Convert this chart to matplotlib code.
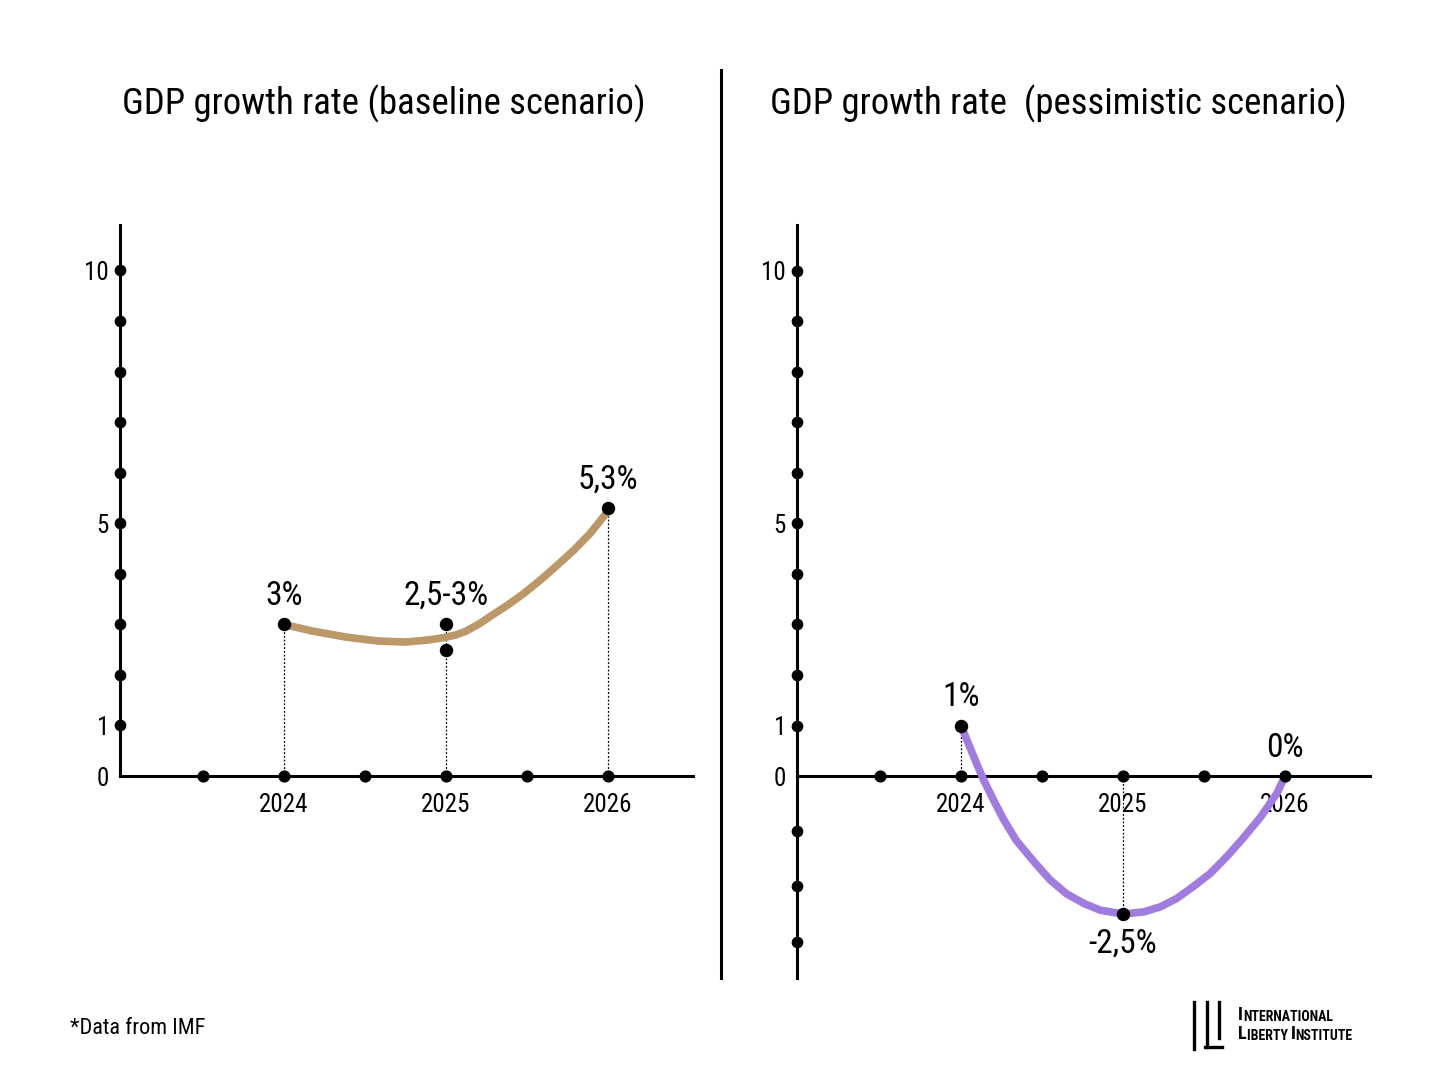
import numpy as np
import matplotlib.pyplot as plt

plt.rcParams['font.family'] = ['Roboto Condensed', 'Liberation Sans Narrow', 'DejaVu Sans']

W, H = 1440, 1080

# --- data ---
years_ticks = [2024, 2025, 2026]
half_years = [2023.5, 2024, 2024.5, 2025, 2025.5, 2026]

# baseline scenario
base_x = [2024.0, 2024.17, 2024.38, 2024.58, 2024.75, 2024.89, 2024.99, 2025.06, 2025.12, 2025.20,
          2025.27, 2025.38, 2025.48, 2025.58, 2025.68, 2025.79, 2025.89, 2025.99, 2026.0]
base_y = [3.0, 2.87, 2.75, 2.67, 2.65, 2.69, 2.74, 2.79, 2.86, 3.0,
          3.15, 3.38, 3.61, 3.87, 4.15, 4.47, 4.80, 5.20, 5.3]
base_pts_x = [2024, 2025, 2025, 2026]
base_pts_y = [3.0, 3.0, 2.5, 5.3]
base_labels = [(2024, 3.0, "3%"), (2025, 3.0, "2,5-3%"), (2026, 5.3, "5,3%")]

# pessimistic scenario
pess_x = [2024.0, 2024.05, 2024.10, 2024.14, 2024.20, 2024.26, 2024.34, 2024.45, 2024.55, 2024.65,
          2024.76, 2024.86, 2025.0, 2025.13, 2025.23, 2025.33, 2025.43, 2025.54, 2025.64, 2025.74,
          2025.85, 2025.95, 2026.0]
pess_y = [1.0, 0.61, 0.22, -0.07, -0.43, -0.77, -1.16, -1.55, -1.88, -2.13,
          -2.31, -2.43, -2.5, -2.46, -2.37, -2.22, -2.01, -1.76, -1.46, -1.13,
          -0.74, -0.31, 0.0]
pess_pts_x = [2024, 2025]
pess_pts_y = [1.0, -2.5]
pess_labels = [(2024, 1.0, "1%"), (2026, 0.0, "0%")]

brown = "#BC9868"
purple = "#A07BE0"

# below zero the right panel is drawn with a slightly bigger step
neg_ratio = 55.2 / 50.6


def fwd(y):
    y = np.asarray(y, dtype=float)
    return np.where(y < 0, y * neg_ratio, y)


def inv(y):
    y = np.asarray(y, dtype=float)
    return np.where(y < 0, y / neg_ratio, y)


def box(x0, y0, x1, y1):
    # pixel box (top-left origin) -> figure fraction rect
    return [x0 / W, 1 - y1 / H, (x1 - x0) / W, (y1 - y0) / H]


fig = plt.figure(figsize=(14.4, 10.8), dpi=100)

xlim = (2024 + (120 - 284) / 162, 2024 + (693 - 284) / 162)


def setup(ax):
    ax.set_xlim(*xlim)
    for s in ["top", "right"]:
        ax.spines[s].set_visible(False)
    for s in ["left", "bottom"]:
        ax.spines[s].set_linewidth(2.2)
        ax.spines[s].set_zorder(2)
    ax.set_xticks(years_ticks)
    ax.set_xticklabels([str(y) for y in years_ticks])
    ax.tick_params(axis="x", length=0, pad=12, labelsize=18)
    ax.tick_params(axis="y", length=0, pad=8, labelsize=18)
    ax.scatter(half_years, [0] * len(half_years), s=60, color="black", zorder=5, clip_on=False)
    ax.patch.set_alpha(0)


dot_style = dict(color="black", lw=0.9, ls=(0, (1.5, 1.5)), zorder=1)
curve_style = dict(lw=5.5, solid_capstyle="butt", solid_joinstyle="round", zorder=3)

# left panel
ax1 = fig.add_axes(box(120, 225, 693, 776))
setup(ax1)
ax1.set_ylim(0, 10.9)
ax1.set_yticks([0, 1, 5, 10])
ax1.scatter([xlim[0]] * 10, list(range(1, 11)), s=55, color="black", zorder=5, clip_on=False)
for x, y in [(2024, 3.0), (2025, 3.0), (2026, 5.3)]:
    ax1.plot([x, x], [0, y], **dot_style)
ax1.plot(base_x, base_y, color=brown, **curve_style)
ax1.scatter(base_pts_x, base_pts_y, s=75, color="black", zorder=6)
for x, y, t in base_labels:
    ax1.annotate(t, (x, y), xytext=(0, 9), textcoords="offset points",
                 ha="center", va="bottom", fontsize=24)

# right panel
ax2 = fig.add_axes(box(797, 225, 1370, 978))
setup(ax2)
ax2.set_yscale("function", functions=(fwd, inv))
ax2.set_ylim(-(978 - 776) / 55.2, 10.9)
ax2.spines["bottom"].set_position(("data", 0))
ax2.set_yticks([0, 1, 5, 10])
dots_y = [-3, -2, -1] + list(range(1, 11))
ax2.scatter([xlim[0]] * len(dots_y), dots_y, s=55, color="black", zorder=5, clip_on=False)
ax2.plot([2024, 2024], [0, 1.0], **dot_style)
ax2.plot([2025, 2025], [0, -2.5], **dot_style)
ax2.plot(pess_x, pess_y, color=purple, **curve_style)
ax2.scatter(pess_pts_x, pess_pts_y, s=75, color="black", zorder=6)
for x, y, t in pess_labels:
    ax2.annotate(t, (x, y), xytext=(0, 9), textcoords="offset points",
                 ha="center", va="bottom", fontsize=24)
ax2.annotate("-2,5%", (2025, -2.5), xytext=(0, -10), textcoords="offset points",
             ha="center", va="top", fontsize=24)

# titles
fig.text(384 / W, 1 - 104 / H, "GDP growth rate (baseline scenario)", ha="center", va="center", fontsize=26.5)
fig.text(1058 / W, 1 - 104 / H, "GDP growth rate  (pessimistic scenario)", ha="center", va="center", fontsize=26.5)

# divider
fig.add_artist(plt.Line2D([721 / W, 721 / W], [1 - 70 / H, 1 - 978 / H], color="black", lw=2.2))

# footer
fig.text(70 / W, 1 - 1028 / H, "*Data from IMF", ha="left", va="center", fontsize=16)

# logo
for xs, ys in [([1193.5, 1193.5], [1002, 1049]),
               ([1206.5, 1206.5], [1002, 1047]),
               ([1205, 1222], [1047, 1047]),
               ([1218.5, 1218.5], [1002, 1038])]:
    fig.add_artist(plt.Line2D([x / W for x in xs], [1 - y / H for y in ys], color="black", lw=2.4))


def logo_words(x, y, parts):
    # fake small caps: each piece is placed right after the previous one
    prev = fig.text(x / W, 1 - y / H, parts[0][0], ha="left", va="bottom",
                    fontsize=13 if parts[0][1] else 10, fontweight="bold")
    for txt, big in parts[1:]:
        prev = ax1.annotate(txt, xy=(1, 0), xycoords=prev, ha="left", va="bottom",
                            fontsize=13 if big else 10, fontweight="bold", annotation_clip=False)


logo_words(1238, 1024, [("I", True), ("NTERNATIONAL", False)])
logo_words(1238, 1043, [("L", True), ("IBERTY ", False), ("I", True), ("NSTITUTE", False)])

fig.savefig("out.png", dpi=100, facecolor="white")
